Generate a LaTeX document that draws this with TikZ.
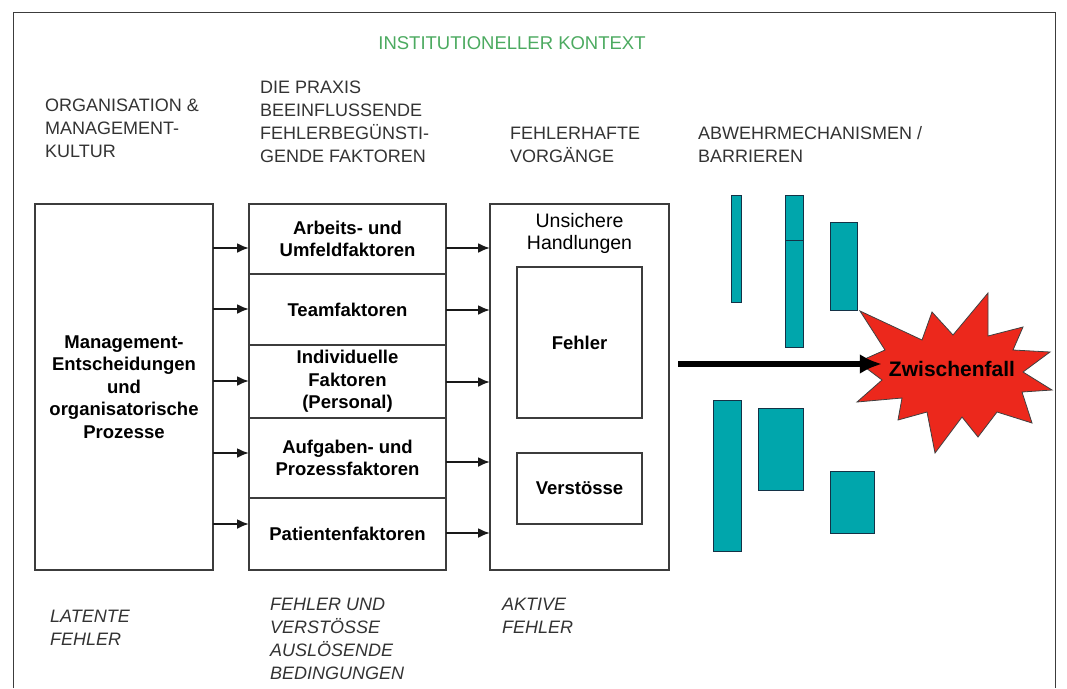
\documentclass[tikz,border=0pt]{standalone}
\usepackage{fontspec}
\setmainfont{Liberation Sans}
\usetikzlibrary{arrows.meta}
\usetikzlibrary{positioning}
\definecolor{kontextgruen}{RGB}{76,170,96}
\definecolor{barriere}{RGB}{0,166,172}
\definecolor{barrierrand}{RGB}{20,50,70}
\definecolor{knall}{RGB}{236,40,28}
\definecolor{linie}{RGB}{60,60,60}
\newcommand{\gross}{\fontsize{18}{23}\selectfont}
\newcommand{\fett}{\bfseries\fontsize{18.5}{22.5}\selectfont}

\begin{document}
\begin{tikzpicture}[x=1pt,y=-1pt,
  kasten/.style={draw=linie, line width=1.2pt, inner sep=0pt, outer sep=0pt, align=center, font=\fett},
  spalte/.style={kasten, minimum width=197pt},
  kopf/.style={anchor=west, inner sep=0pt, align=left, font=\gross, text=black!80},
  fuss/.style={kopf, font=\gross\itshape},
  pfeil/.style={-{Latex[length=12pt,width=10pt]}, line width=2.2pt, draw=black!90},
  balken/.style={fill=barriere, draw=barrierrand, line width=1pt}]
 \useasboundingbox (0,0) rectangle (1067,688);
 \draw[linie, line width=1pt] (13,688) -- (13,12) -- (1055,12) -- (1055,688);

 % ueberschriften
 \node[font=\fontsize{18.5}{23}\selectfont, text=kontextgruen] (kontext) at (512,43) {INSTITUTIONELLER KONTEXT};
 \node[kopf] (orga) at (45,128) {ORGANISATION \&\\MANAGEMENT-\\KULTUR};
 \node[kopf] (praxis) at (260,122) {DIE PRAXIS\\BEEINFLUSSENDE\\FEHLERBEGÜNSTI-\\GENDE FAKTOREN};
 \node[kopf] (vorgang) at (510,144.5) {FEHLERHAFTE\\VORGÄNGE};
 \node[kopf] (abwehr) at (698,144.5) {ABWEHRMECHANISMEN /\\BARRIEREN};

 % linke spalte
 \node[kasten, minimum width=178pt, minimum height=366pt] (mgmt) at (124,387)
   {Management-\\Entscheidungen\\und\\organisatorische\\Prozesse};

 % mittlere spalte
 \node[spalte, minimum height=70pt] (arbeit) at (347.5,239) {Arbeits- und\\Umfeldfaktoren};
 \node[spalte, minimum height=71pt, below=0pt of arbeit] (team) {Teamfaktoren};
 \node[spalte, minimum height=73pt, below=0pt of team] (indiv) {Individuelle\\Faktoren\\(Personal)};
 \node[spalte, minimum height=80pt, below=0pt of indiv] (aufgabe) {Aufgaben- und\\Prozessfaktoren};
 \node[spalte, minimum height=72pt, below=0pt of aufgabe] (patient) {Patientenfaktoren};

 % rechte spalte
 \node[kasten, minimum width=179pt, minimum height=366pt] (handl) at (579.5,387) {};
 \node[font=\fontsize{19.5}{22}\selectfont, align=center, inner sep=0pt] (unsicher) at (579.5,233) {Unsichere\\Handlungen};
 \node[kasten, minimum width=125pt, minimum height=151pt] (fehler) at (579.5,342.5) {Fehler};
 \node[kasten, minimum width=125pt, minimum height=71pt] (verstoss) at (579.5,488.5) {Verstösse};

 \foreach \y/\ziel in {248/arbeit, 309/team, 381/indiv, 453/aufgabe, 524/patient}
   \draw[pfeil] (mgmt.east |- 0,\y) -- (\ziel.west |- 0,\y);
 \foreach \y/\quelle in {248/arbeit, 310/team, 382/indiv, 462/aufgabe, 533/patient}
   \draw[pfeil] (\quelle.east |- 0,\y) -- (handl.west |- 0,\y);

 % barrieren
 \draw[balken] (731,195) rectangle (741,302);
 \draw[balken] (785,195) rectangle (803,240);
 \draw[balken] (785,240) rectangle (803,347);
 \draw[balken] (830,222) rectangle (857,310);
 \draw[balken] (713,400) rectangle (741,551);
 \draw[balken] (758,408) rectangle (803,490);
 \draw[balken] (830,471) rectangle (874,533);

 % zwischenfall
 \draw[fill=knall, draw=black!75, line width=0.8pt] (860,311) -- (922,340) -- (932,312) -- (953,335)
   -- (988,293) -- (988,336) -- (1023,327) -- (1013,350) -- (1050,352) -- (1023,372)
   -- (1052,390) -- (1022,392) -- (1032,423) -- (997,412) -- (978,437) -- (962,417)
   -- (935,453) -- (927,412) -- (898,420) -- (902,398) -- (857,402) -- (882,380)
   -- (858,362) -- (885,350) -- cycle;
 \node[font=\bfseries\fontsize{21}{24}\selectfont, inner sep=0pt] (zwischen) at (952,369) {Zwischenfall};
 \coordinate (start) at (678,364);
 \draw[-{Latex[length=22pt,width=20pt]}, line width=6pt, shorten >=7pt] (start) -- (zwischen.west |- start);

 % fehlerarten
 \node[fuss] (latent) at (50,628) {LATENTE\\FEHLER};
 \node[fuss] (bedingung) at (270,638.5) {FEHLER UND\\VERSTÖSSE\\AUSLÖSENDE\\BEDINGUNGEN};
 \node[fuss] (aktiv) at (502,615.5) {AKTIVE\\FEHLER};
\end{tikzpicture}
\end{document}
